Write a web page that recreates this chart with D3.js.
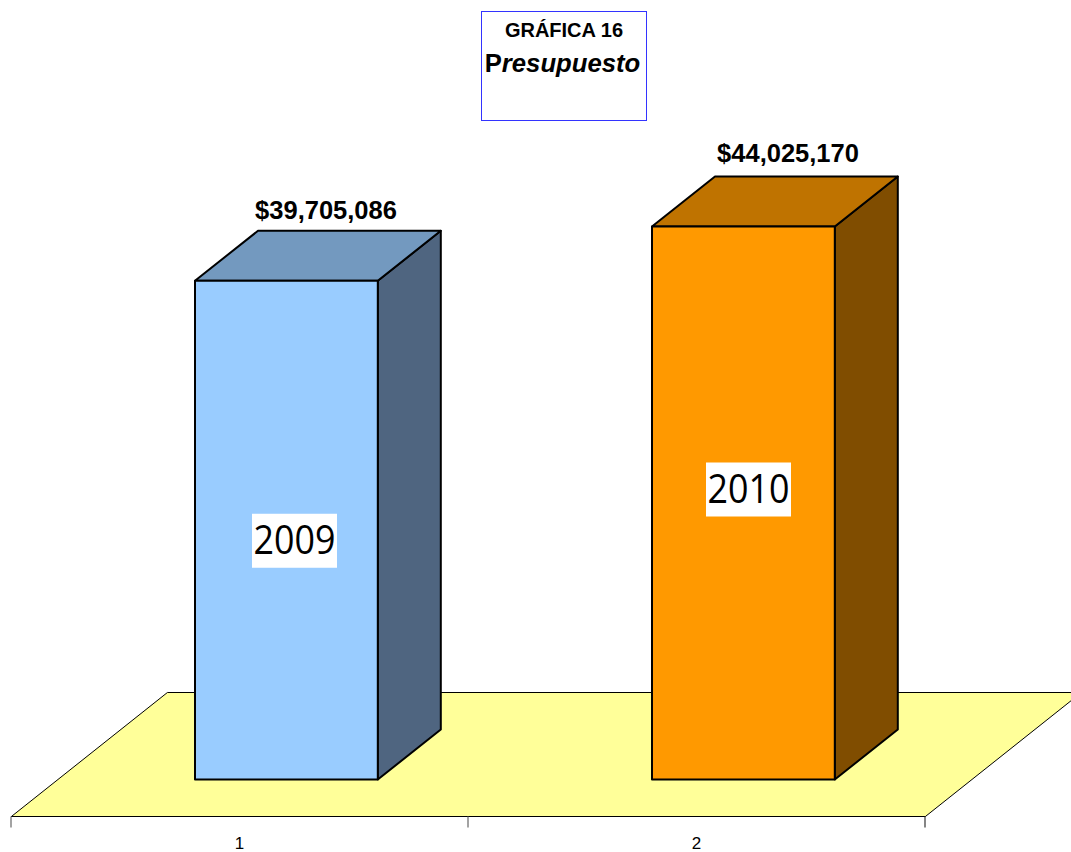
<!DOCTYPE html>
<html>
<head>
<meta charset="utf-8">
<script src="https://cdn.jsdelivr.net/npm/d3@7"></script>
<style>
html, body { margin: 0; padding: 0; background: #fff; overflow: hidden; }
svg { display: block; }
text { font-family: "Liberation Sans", Arial, sans-serif; fill: #000; }
</style>
</head>
<body>
<div id="chart-area"></div>
<script>
// DATA
var categories = ["1", "2"];
var years = ["2009", "2010"];
var budget = [39705086, 44025170];
var valueLabels = ["$39,705,086", "$44,025,170"];
var frontColors = ["#99ccff", "#ff9900"];
var topColors = ["#7399bf", "#bf7300"];
var sideColors = ["#4f6580", "#804d00"];

var width = 1071, height = 852;

// floor and bar geometry of the fake 3D box
var floorFront = 816.5;
var floorDepth = { x: 156, y: 124 };
var barDepth = { x: 63, y: 50 };
var barOffset = { x: (floorDepth.x - barDepth.x) / 2, y: (floorDepth.y - barDepth.y) / 2 };

var svg = d3.select("#chart-area").append("svg")
	.attr("width", width)
	.attr("height", height);

// SCALES
var x = d3.scaleBand()
	.domain(categories)
	.range([11.4, 925.4])
	.paddingInner(0.6)
	.paddingOuter(0.3);
var y = d3.scaleLinear()
	.domain([0, 44025170])
	.range([floorFront - barOffset.y, 226.5]);

var step = x.step();
var edge0 = x.range()[0];

// FLOOR
svg.append("path")
	.attr("d", "M" + edge0 + "," + floorFront +
		"L" + (edge0 + floorDepth.x) + "," + (floorFront - floorDepth.y) +
		"L" + (x.range()[1] + floorDepth.x) + "," + (floorFront - floorDepth.y) +
		"L" + x.range()[1] + "," + floorFront + "Z")
	.attr("fill", "#ffff99")
	.attr("stroke", "#000")
	.attr("stroke-width", 1);

// X AXIS (labels only, ticks fall between the categories)
var xAxisCall = d3.axisBottom(x).tickSize(0).tickPadding(0);
var xAxisGroup = svg.append("g")
	.attr("transform", "translate(-0.5," + floorFront + ")")
	.call(xAxisCall);
xAxisGroup.select(".domain").remove();
xAxisGroup.selectAll("text")
	.attr("y", 32.5)
	.attr("dy", 0)
	.attr("font-size", "17px")
	.style("font-family", '"Liberation Sans", Arial, sans-serif');

svg.append("line")
	.attr("x1", x.range()[0]).attr("x2", x.range()[1])
	.attr("y1", floorFront).attr("y2", floorFront)
	.attr("stroke", "#000");

d3.range(categories.length + 1).forEach(i => {
	svg.append("line")
		.attr("x1", Math.round(edge0 + i * step))
		.attr("x2", Math.round(edge0 + i * step))
		.attr("y1", floorFront)
		.attr("y2", floorFront + 11)
		.attr("stroke", i == 2 ? "#333" : "#666")
		.attr("stroke-width", 1.2);
});

// BARS
var bars = svg.selectAll("g.bar")
	.data(budget)
	.enter().append("g")
	.attr("class", "bar");

function frontX(i) { return x(categories[i]) + barOffset.x; }

bars.append("path") // right side
	.attr("d", (d, i) => {
		var x1 = frontX(i) + x.bandwidth(), y0 = y(0), y1 = y(d);
		return "M" + x1 + "," + y0 + "L" + x1 + "," + y1 +
			"L" + (x1 + barDepth.x) + "," + (y1 - barDepth.y) +
			"L" + (x1 + barDepth.x) + "," + (y0 - barDepth.y) + "Z";
	})
	.attr("fill", (d, i) => sideColors[i]);

bars.append("path") // top
	.attr("d", (d, i) => {
		var x0 = frontX(i), x1 = x0 + x.bandwidth(), y1 = y(d);
		return "M" + x0 + "," + y1 + "L" + (x0 + barDepth.x) + "," + (y1 - barDepth.y) +
			"L" + (x1 + barDepth.x) + "," + (y1 - barDepth.y) + "L" + x1 + "," + y1 + "Z";
	})
	.attr("fill", (d, i) => topColors[i]);

bars.append("rect") // front
	.attr("x", (d, i) => frontX(i))
	.attr("y", d => y(d))
	.attr("width", x.bandwidth())
	.attr("height", d => y(0) - y(d))
	.attr("fill", (d, i) => frontColors[i]);

bars.selectAll("path, rect")
	.attr("stroke", "#000")
	.attr("stroke-width", 2)
	.attr("stroke-linejoin", "round");

// VALUE LABELS
var labelShift = [131, 136];
var labelRaise = [12, 15];
bars.append("text")
	.attr("x", (d, i) => frontX(i) + labelShift[i])
	.attr("y", (d, i) => y(d) - barDepth.y - labelRaise[i])
	.attr("text-anchor", "middle")
	.attr("font-size", "25.5px")
	.attr("font-weight", "bold")
	.text((d, i) => valueLabels[i]);

// YEAR LABELS, white box behind the text
var boxW = 85, boxH = 54;
var boxShiftX = [57, 54];
var boxShiftY = [233, 236];
bars.append("rect")
	.attr("x", (d, i) => frontX(i) + boxShiftX[i])
	.attr("y", (d, i) => y(d) + boxShiftY[i])
	.attr("width", boxW)
	.attr("height", boxH)
	.attr("fill", "#fff");
bars.append("text")
	.attr("x", (d, i) => frontX(i) + boxShiftX[i] + boxW / 2)
	.attr("y", (d, i) => y(d) + boxShiftY[i] + 40)
	.attr("text-anchor", "middle")
	.attr("font-size", "41px")
	.attr("textLength", 82)
	.attr("lengthAdjust", "spacingAndGlyphs")
	.style("font-family", '"Open Sans", "Noto Sans", sans-serif')
	.text((d, i) => years[i]);

// TITLE
svg.append("rect")
	.attr("x", 481.5).attr("y", 11.5)
	.attr("width", 165).attr("height", 109)
	.attr("fill", "#fff")
	.attr("stroke", "#3333ff")
	.attr("stroke-width", 1);
svg.append("text")
	.attr("x", 564).attr("y", 37)
	.attr("text-anchor", "middle")
	.attr("font-size", "20px")
	.attr("font-weight", "bold")
	.text("GRÁFICA 16");
var subtitle = svg.append("text")
	.attr("x", 562.5).attr("y", 72)
	.attr("text-anchor", "middle")
	.attr("font-size", "25.7px")
	.attr("font-weight", "bold");
subtitle.append("tspan").text("P");
subtitle.append("tspan").attr("font-style", "italic").text("resupuesto");
</script>
</body>
</html>
